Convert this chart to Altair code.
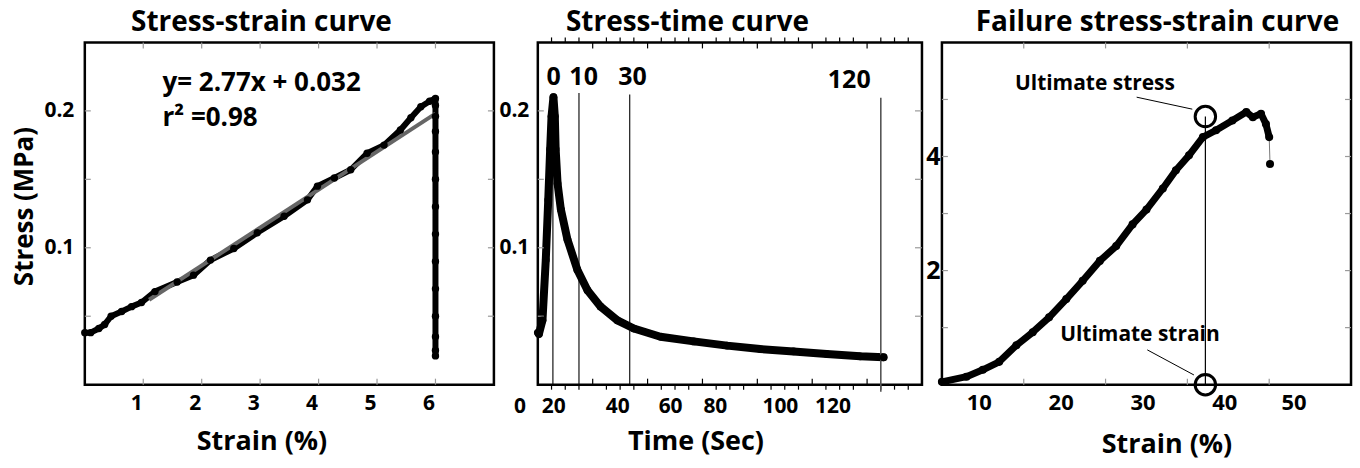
import altair as alt
import pandas as pd

FONT = "Open Sans"
BLACK = "#000000"
TICKGRAY = "#9a9a9a"

# ---------------- Panel 1: stress-strain ----------------
strain1 = [0.0, 0.1, 0.24, 0.34, 0.45, 0.63, 0.8, 0.97, 1.2, 1.58, 1.86, 2.15, 2.55,
           2.95, 3.41, 3.81, 3.98, 4.27, 4.55, 4.83, 5.12, 5.4, 5.58, 5.75, 5.9, 6.0]
stress1 = [0.038, 0.038, 0.041, 0.044, 0.050, 0.0535, 0.057, 0.060, 0.068, 0.075, 0.080,
           0.091, 0.0995, 0.111, 0.123, 0.135, 0.145, 0.151, 0.157, 0.169, 0.175, 0.186,
           0.195, 0.203, 0.207, 0.209]
drop_strain1 = [6.0, 6.0, 6.0, 6.0, 6.0, 6.0, 6.0, 6.0, 6.0, 6.0, 6.0, 6.0, 6.0]
drop_stress1 = [0.204, 0.196, 0.185, 0.17, 0.15, 0.13, 0.11, 0.09, 0.07, 0.05, 0.035, 0.025, 0.021]
fit_strain = [1.1, 6.0]
fit_stress = [0.062, 0.198]
eq_text = ["y= 2.77x + 0.032", "r\u00b2 =0.98"]
eq_x = [1.33, 1.33]
eq_y = [0.220, 0.195]
p1_xticks = [1, 2, 3, 4, 5, 6]
p1_yticks = [0.05, 0.1, 0.15, 0.2]

# ---------------- Panel 2: stress-time ----------------
time2 = [0.1, 0.4, 1.7, 2.9, 3.8, 4.5, 5.0, 5.7, 6.2, 6.5, 7.2, 8.4, 10.8, 14.4, 18.1,
         22.9, 29.0, 35.0, 44.7, 56.8, 69.0, 81.0, 93.2, 105.3, 117.5, 126.0]
stress2 = [0.038, 0.037, 0.047, 0.091, 0.135, 0.172, 0.196, 0.210, 0.196, 0.172, 0.147,
           0.128, 0.106, 0.084, 0.069, 0.057, 0.047, 0.041, 0.035, 0.0316, 0.0285, 0.026,
           0.0243, 0.0224, 0.0207, 0.020]
relax_labels = ["0", "10", "30", "120"]
relax_at = [5.5, 15.0, 33.5, 125.0]
relax_label_at = [5.8, 16.7, 34.5, 113.5]
relax_label_y = [0.225, 0.225, 0.225, 0.2226]
relax_top = [0.210, 0.213, 0.212, 0.2095]
time_labels = ["0", "20", "40", "60", "80", "100", "120"]
time_label_at = [-6.5, 5.8, 29.1, 48.4, 64.7, 88.4, 107.6]
p2_major = [20, 40, 60, 80, 100, 120]
p2_minor = [5, 10, 15, 25, 30, 35, 45, 50, 55, 65, 70, 75, 85, 90, 95,
            105, 110, 115, 125, 130, 135]
p2_yticks = [0.05, 0.1, 0.15, 0.2]

# ---------------- Panel 3: failure stress-strain ----------------
strain3 = [0.0, 3.0, 5.0, 7.0, 9.1, 11.1, 13.1, 15.2, 17.2, 19.3, 21.3, 23.3, 25.0,
           27.0, 28.6, 30.2, 31.9, 33.5, 35.5, 37.2, 38.0, 39.0, 39.6, 40.0]
stress3 = [0.05, 0.14, 0.26, 0.40, 0.69, 0.92, 1.18, 1.50, 1.82, 2.17, 2.43, 2.81, 3.07,
           3.44, 3.76, 4.02, 4.34, 4.46, 4.63, 4.78, 4.69, 4.75, 4.57, 4.34]
tail_strain3 = [40.0, 40.1]
tail_stress3 = [4.34, 3.87]
ult_strain = [32.2, 32.2]
ult_stress = [4.70, 0.0]
ult_text = ["Ultimate stress", "Ultimate strain"]
ult_text_x = [18.7, 24.2]
ult_text_y = [5.27, 0.87]
lead_x1 = [23.8, 25.1]
lead_y1 = [5.04, 0.61]
lead_x2 = [30.6, 30.8]
lead_y2 = [4.83, 0.17]
p3_xticks = [10, 20, 30, 40]
p3_xlabels = [10, 20, 30, 40, 50]
p3_yticks = [1, 2, 3, 4, 5]

titles = ["Stress-strain curve", "Stress-time curve", "Failure stress-strain curve"]

W1, W2, W3, H = 410, 385, 410, 343


def df(**cols):
    d = pd.DataFrame(cols)
    d["i"] = range(len(d))
    return d


def title_mark(text, xpix):
    return alt.Chart(df(t=[text])).mark_text(
        font=FONT, fontSize=28, fontWeight="bold", baseline="alphabetic", align="center",
        color=BLACK).encode(x=alt.value(xpix), y=alt.value(-11), text="t:N")


class Panel:
    def __init__(self, xs, ys, axx, axy):
        self.xs, self.ys, self.axx, self.axy = xs, ys, axx, axy

    def X(self, f):
        return alt.X(f, scale=self.xs, axis=self.axx)

    def Y(self, f):
        return alt.Y(f, scale=self.ys, axis=self.axy)

    def xticks(self, vals, y0, y1, color, width=1.2):
        return alt.Chart(df(v=vals)).mark_rule(color=color, strokeWidth=width).encode(
            x=self.X("v:Q"), y=alt.value(y0), y2=alt.value(y1))

    def yticks(self, vals, x0, x1, color, width=1.2):
        return alt.Chart(df(v=vals)).mark_rule(color=color, strokeWidth=width).encode(
            y=self.Y("v:Q"), x=alt.value(x0), x2=alt.value(x1))


# ---------- Panel 1 ----------
P1 = Panel(
    alt.Scale(domain=[0, 7], nice=False, zero=False),
    alt.Scale(domain=[0, 0.25], nice=False, zero=False),
    alt.Axis(values=p1_xticks, format="d", title="Strain (%)", labelFontSize=21,
             labelOffset=-7, labelPadding=8, titleFontSize=27, titleX=177, titleY=57,
             titleAlign="center", titleBaseline="middle"),
    alt.Axis(values=[0.1, 0.2], format=".1f", title="Stress (MPa)", labelFontSize=21,
             labelPadding=11, titleFontSize=26, titleX=-60, titleY=164,
             titleAngle=270, titleAlign="center", titleBaseline="middle"),
)
d1 = df(strain=strain1 + drop_strain1, stress=stress1 + drop_stress1)

p1_line = alt.Chart(d1).mark_line(color=BLACK, strokeWidth=6, strokeCap="round",
                                  strokeJoin="round").encode(
    x=P1.X("strain:Q"), y=P1.Y("stress:Q"), order="i:Q")
p1_pts = alt.Chart(d1).mark_circle(color=BLACK, size=55, opacity=1).encode(
    x=P1.X("strain:Q"), y=P1.Y("stress:Q"))
p1_fit = alt.Chart(df(strain=fit_strain, stress=fit_stress)).mark_line(
    color="#666666", strokeWidth=4).encode(x=P1.X("strain:Q"), y=P1.Y("stress:Q"))
p1_eq = alt.Chart(df(x=eq_x, y=eq_y, t=eq_text)).mark_text(
    font=FONT, fontSize=26, fontWeight="bold", align="left", baseline="middle",
    color=BLACK).encode(x=P1.X("x:Q"), y=P1.Y("y:Q"), text="t:N")

panel1 = alt.layer(
    p1_line,
    P1.xticks(p1_xticks, 0, 6, TICKGRAY),
    P1.xticks(p1_xticks, H, H - 6, TICKGRAY),
    P1.yticks(p1_yticks, 0, 6, TICKGRAY),
    P1.yticks(p1_yticks, W1, W1 - 6, TICKGRAY),
    p1_fit, p1_pts, p1_eq, title_mark(titles[0], 177),
).properties(width=W1, height=H)

# ---------- Panel 2 ----------
P2 = Panel(
    alt.Scale(domain=[0, 140], nice=False, zero=False),
    alt.Scale(domain=[0, 0.25], nice=False, zero=False),
    alt.Axis(labels=False, title="Time (Sec)", titleFontSize=27, titleX=158, titleY=57,
             titleAlign="center", titleBaseline="middle"),
    alt.Axis(values=[0.1, 0.2], format=".1f", title=None, labelFontSize=21, labelPadding=9),
)
d2 = df(t=time2, s=stress2)

p2_line = alt.Chart(d2).mark_line(color=BLACK, strokeWidth=8, strokeCap="round",
                                  strokeJoin="round").encode(
    x=P2.X("t:Q"), y=P2.Y("s:Q"), order="i:Q")
p2_pts = alt.Chart(d2).mark_circle(color=BLACK, size=60, opacity=1).encode(
    x=P2.X("t:Q"), y=P2.Y("s:Q"))
d_relax = df(x=relax_at, top=relax_top, lx=relax_label_at, ly=relax_label_y, t=relax_labels)
p2_vl = alt.Chart(d_relax.iloc[:3]).mark_rule(color=BLACK, strokeWidth=1.1).encode(
    x=P2.X("x:Q"), y=P2.Y("top:Q"), y2=alt.value(H))
p2_vl120 = alt.Chart(d_relax.iloc[3:]).mark_rule(color="#555555", strokeWidth=1.6).encode(
    x=P2.X("x:Q"), y=P2.Y("top:Q"), y2=alt.value(H + 7))
p2_rl = alt.Chart(d_relax).mark_text(font=FONT, fontSize=25, fontWeight="bold",
                                     baseline="middle", color=BLACK).encode(
    x=P2.X("lx:Q"), y=P2.Y("ly:Q"), text="t:N")
p2_tl = alt.Chart(df(x=time_label_at, t=time_labels)).mark_text(
    font=FONT, fontSize=21, fontWeight="bold", baseline="middle", color=BLACK).encode(
    x=P2.X("x:Q"), y=alt.value(H + 22), text="t:N")

panel2 = alt.layer(
    p2_line,
    P2.xticks(p2_major, 0, 6, BLACK),
    P2.xticks(p2_major, H, H - 6, BLACK),
    P2.xticks(p2_minor, 0, -5, BLACK),
    P2.xticks(p2_minor, H, H + 5, BLACK),
    P2.yticks(p2_yticks, 0, 6, TICKGRAY),
    P2.yticks(p2_yticks, W2, W2 - 7, TICKGRAY),
    p2_vl, p2_vl120, p2_pts, p2_rl, p2_tl, title_mark(titles[1], 150),
).properties(width=W2, height=H)

# ---------- Panel 3 ----------
P3 = Panel(
    alt.Scale(domain=[0, 50], nice=False, zero=False),
    alt.Scale(domain=[0, 6], nice=False, zero=False),
    alt.Axis(values=p3_xlabels, format="d", title="Strain (%)", labelFontSize=22,
             labelOffset=-45, labelPadding=8, titleFontSize=27, titleX=225, titleY=60,
             titleAlign="center", titleBaseline="middle"),
    alt.Axis(values=[2, 4], format="d", title=None, labelFontSize=25, labelPadding=2),
)
d3 = df(x=strain3, y=stress3)

p3_line = alt.Chart(d3).mark_line(color=BLACK, strokeWidth=7, strokeCap="round",
                                  strokeJoin="round").encode(
    x=P3.X("x:Q"), y=P3.Y("y:Q"), order="i:Q")
p3_tail = alt.Chart(df(x=tail_strain3, y=tail_stress3)).mark_line(
    color="#777777", strokeWidth=1).encode(x=P3.X("x:Q"), y=P3.Y("y:Q"))
p3_pts = alt.Chart(df(x=strain3 + tail_strain3[1:], y=stress3 + tail_stress3[1:])).mark_circle(
    color=BLACK, size=65, opacity=1).encode(x=P3.X("x:Q"), y=P3.Y("y:Q"))
d_ult = df(x=ult_strain, y=ult_stress, tx=ult_text_x, ty=ult_text_y, t=ult_text,
           x1=lead_x1, y1=lead_y1, x2=lead_x2, y2=lead_y2)
p3_vline = alt.Chart(df(x=[ult_strain[0]], y=[ult_stress[0]], y2=[ult_stress[1]])).mark_rule(
    color=BLACK, strokeWidth=1.2).encode(x=P3.X("x:Q"), y=P3.Y("y:Q"), y2="y2:Q")
p3_circ = alt.Chart(d_ult).mark_point(shape="circle", size=420, filled=False, color=BLACK,
                                      strokeWidth=3, opacity=1).encode(
    x=P3.X("x:Q"), y=P3.Y("y:Q"))
p3_lead = alt.Chart(d_ult).mark_rule(color=BLACK, strokeWidth=1).encode(
    x=P3.X("x1:Q"), y=P3.Y("y1:Q"), x2="x2:Q", y2="y2:Q")
p3_txt = alt.Chart(d_ult).mark_text(font=FONT, fontSize=21, fontWeight="bold",
                                    baseline="middle", color=BLACK).encode(
    x=P3.X("tx:Q"), y=P3.Y("ty:Q"), text="t:N")

panel3 = alt.layer(
    p3_line,
    P3.xticks(p3_xticks, 0, 6, TICKGRAY),
    P3.xticks(p3_xticks, H, H - 6, TICKGRAY),
    P3.yticks(p3_yticks, 0, 6, TICKGRAY),
    P3.yticks(p3_yticks, W3, W3 - 6, TICKGRAY),
    p3_vline, p3_tail, p3_pts, p3_lead, p3_circ, p3_txt, title_mark(titles[2], 216),
).properties(width=W3, height=H)

spacer = alt.Chart(df(v=[0])).mark_point(opacity=0).encode(
    x=alt.X("v:Q", axis=None), y=alt.Y("v:Q", axis=None)
).properties(width=4, height=H, view=alt.ViewBackground(strokeOpacity=0))

chart = alt.hconcat(panel1, spacer, panel2, panel3, spacing=20, bounds="flush").properties(
    padding={"left": 10, "top": 7, "right": 7, "bottom": 10}, background="white"
).configure_view(stroke=BLACK, strokeWidth=2.5).configure_axis(
    labelFont=FONT, labelFontWeight="bold", titleFont=FONT, titleFontWeight="bold",
    ticks=False, domain=False, grid=False, labelColor=BLACK, titleColor=BLACK
)

chart.save("out.html", embed_options={"renderer": "svg", "actions": False})
